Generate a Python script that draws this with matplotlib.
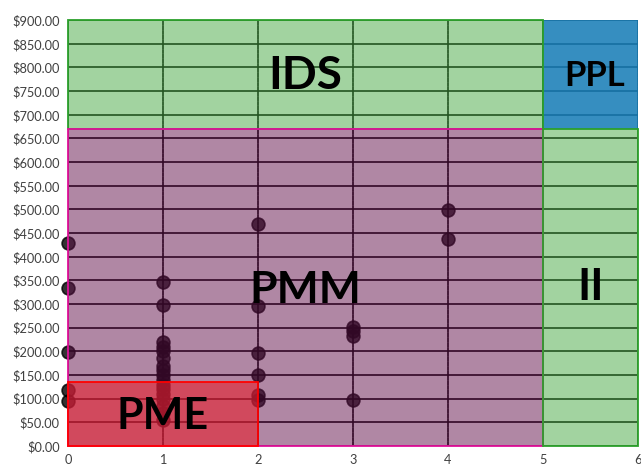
import matplotlib.pyplot as plt
import numpy as np
from matplotlib.ticker import MultipleLocator, FuncFormatter

# scatter data (x = level, y = value in $)
x_pts = [0, 0, 0, 0, 0,
         1, 1, 1, 1, 1, 1, 1, 1, 1, 1, 1, 1, 1, 1, 1, 1, 1,
         2, 2, 2, 2, 2, 2,
         3, 3, 3, 3,
         4, 4]
y_pts = [430, 333, 198, 118, 96,
         347, 298, 220, 210, 200, 185, 170, 160, 150, 140, 130, 120, 110, 100, 85, 70, 55,
         469, 296, 197, 151, 108, 98,
         252, 243, 233, 98,
         499, 438]

# zones: label, x0, x1, y0, y1
zone_names = ['IDS', 'PPL', 'PMM', 'II', 'PME']
zone_x0 = [0, 5, 0, 5, 0]
zone_x1 = [5, 6, 5, 6, 2]
zone_y0 = [670, 670, 0, 0, 0]
zone_y1 = [900, 900, 670, 670, 135]

fig = plt.figure(figsize=(6.41, 4.69), dpi=100)
ax = fig.add_axes([0.106, 0.049, 0.889, 0.908])

ax.set_xlim(0, 6)
ax.set_ylim(0, 900)
ax.xaxis.set_major_locator(MultipleLocator(1))
ax.yaxis.set_major_locator(MultipleLocator(50))
ax.xaxis.set_minor_locator(MultipleLocator(0.2))
ax.yaxis.set_minor_locator(MultipleLocator(10))
ax.yaxis.set_major_formatter(FuncFormatter(lambda v, p: f'${v:,.2f}'))

ax.set_axisbelow(True)
ax.grid(which='major', color='black', linewidth=1.2)
ax.xaxis.grid(which='minor', color='white', linewidth=0.9, alpha=0.35)
ax.yaxis.grid(which='minor', color='white', linewidth=0.5, alpha=0.12)
for s in ax.spines.values():
    s.set_visible(False)
ax.tick_params(which='both', length=0, labelsize=9.2, colors='#404040', pad=6)
for lab in ax.get_xticklabels() + ax.get_yticklabels():
    lab.set_family('Lato')

# points drawn under the zone fills
ax.scatter(x_pts, y_pts, s=85, color='black', alpha=0.8,
           edgecolor='black', linewidth=1.2, zorder=1, clip_on=False)

fills = {'IDS': ('#47a942', 0.5, '#2ca02c'),
         'PPL': ('#1a7fb8', 0.88, 'none'),
         'PMM': ('#62104a', 0.5, '#e0109a'),
         'II':  ('#47a942', 0.5, '#2ca02c'),
         'PME': ('#e8202e', 0.6, '#ff0000')}
for n, x0, x1, y0, y1 in zip(zone_names, zone_x0, zone_x1, zone_y0, zone_y1):
    fc, a, ec = fills[n]
    ax.add_patch(plt.Rectangle((x0, y0), x1 - x0, y1 - y0, facecolor=fc,
                               alpha=a, edgecolor='none', zorder=2, clip_on=False))
    if ec != 'none':
        ax.add_patch(plt.Rectangle((x0, y0), x1 - x0, y1 - y0, facecolor='none',
                                   edgecolor=ec, linewidth=1.3, zorder=3, clip_on=False))

ax.text(2.5, 782, 'IDS', fontsize=33, fontweight='bold', family='Lato',
        ha='center', va='center', zorder=4)
ax.text(5.55, 782, 'PPL', fontsize=25, fontweight='bold', family='Lato',
        ha='center', va='center', zorder=4)
ax.text(2.5, 330, 'PMM', fontsize=32, fontweight='bold', family='Lato',
        ha='center', va='center', zorder=4)
ax.text(5.5, 336, 'II', fontsize=32, fontweight='bold', family='Lato',
        ha='center', va='center', zorder=4)
ax.text(1.0, 63, 'PME', fontsize=31, fontweight='bold', family='Lato',
        ha='center', va='center', zorder=4)

fig.savefig('out.png', dpi=100)
